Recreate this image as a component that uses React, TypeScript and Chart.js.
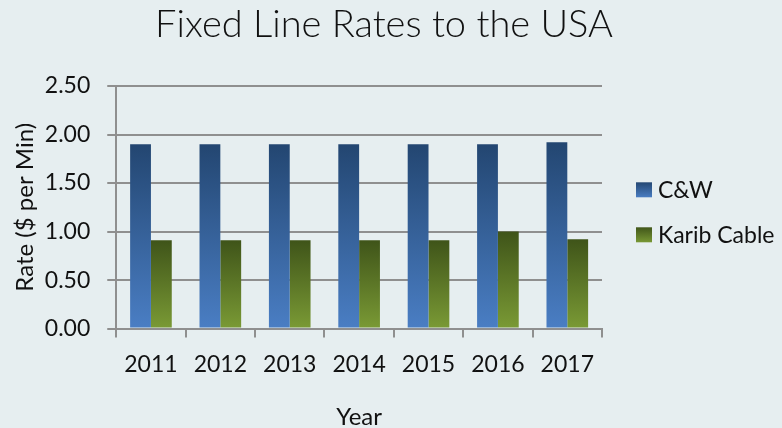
import React, { useEffect, useRef } from "react";
import { Chart, registerables } from "chart.js";

Chart.register(...registerables);

const TITLE = "Fixed Line Rates to the USA";
const years = ["2011", "2012", "2013", "2014", "2015", "2016", "2017"];
const cwRates = [1.9, 1.9, 1.9, 1.9, 1.9, 1.9, 1.92];
const karibRates = [0.91, 0.91, 0.91, 0.91, 0.91, 1.0, 0.92];
const seriesNames = ["C&W", "Karib Cable"];
const yTicks = [0, 0.5, 1.0, 1.5, 2.0, 2.5];

const FONT = 'Lato, "Open Sans", sans-serif';
const BG = "#e6eef0";
const GRID = "#8f8f8f";
const CW_DARK = "#234671";
const CW_LIGHT = "#4a7ec4";
const KC_DARK = "#3f5419";
const KC_LIGHT = "#7a9a35";

const barGradient = (dark: string, light: string) => (ctx: any) => {
  const chart = ctx.chart;
  if (!chart.chartArea || ctx.type !== "data") return light;
  const y = chart.scales.y;
  const top = y.getPixelForValue(ctx.raw);
  const bottom = y.getPixelForValue(0);
  const g = chart.ctx.createLinearGradient(0, top, 0, bottom);
  g.addColorStop(0, dark);
  g.addColorStop(1, light);
  return g;
};

const decorPlugin = {
  id: "decor",
  beforeDraw(chart: any) {
    const c = chart.ctx;
    c.save();
    c.fillStyle = BG;
    c.fillRect(0, 0, chart.width, chart.height);
    c.restore();
  },
  afterDraw(chart: any) {
    const c = chart.ctx;
    const area = chart.chartArea;
    c.save();
    // title
    c.fillStyle = "#111111";
    c.font = `300 38px ${FONT}`;
    c.textAlign = "center";
    c.textBaseline = "alphabetic";
    c.fillText(TITLE, 384, 37);
    // legend
    const colors = [
      [CW_DARK, CW_LIGHT],
      [KC_DARK, KC_LIGHT],
    ];
    const boxX = area.right + 34;
    const mid = (area.top + area.bottom) / 2;
    const centers = [mid - 17.5, mid + 27.5];
    c.font = `23px ${FONT}`;
    c.textAlign = "left";
    seriesNames.forEach((name, i) => {
      const cy = centers[i];
      const g = c.createLinearGradient(0, cy - 8, 0, cy + 8);
      g.addColorStop(0, colors[i][0]);
      g.addColorStop(1, colors[i][1]);
      c.fillStyle = g;
      c.fillRect(boxX, cy - 7.5, 16, 15);
      c.fillStyle = "#111111";
      c.textBaseline = "alphabetic";
      c.fillText(name, boxX + 22, cy + 8);
    });
    c.restore();
  },
};

export default function App() {
  const ref = useRef<HTMLCanvasElement>(null);
  useEffect(() => {
    document.body.style.margin = "0";
    document.body.style.background = BG;
    const chart = new Chart(ref.current as HTMLCanvasElement, {
      type: "bar",
      data: {
        labels: years,
        datasets: [
          {
            label: seriesNames[0],
            data: cwRates,
            backgroundColor: barGradient(CW_DARK, CW_LIGHT),
            borderWidth: 0,
            categoryPercentage: 0.6,
            barPercentage: 1,
          },
          {
            label: seriesNames[1],
            data: karibRates,
            backgroundColor: barGradient(KC_DARK, KC_LIGHT),
            borderWidth: 0,
            categoryPercentage: 0.6,
            barPercentage: 1,
          },
        ],
      },
      options: {
        animation: false,
        responsive: false,
        devicePixelRatio: 1,
        layout: { padding: { top: 86, right: 180, left: 7, bottom: -4 } },
        plugins: {
          legend: { display: false },
          title: { display: false },
          tooltip: { enabled: false },
        },
        scales: {
          x: {
            grid: {
              display: true,
              drawOnChartArea: false,
              drawTicks: true,
              tickLength: 9,
              offset: true,
              color: GRID,
              lineWidth: 2,
            },
            border: { display: true, color: GRID, width: 2 },
            ticks: {
              color: "#111111",
              font: { family: FONT, size: 23 },
              padding: 13,
              maxRotation: 0,
            },
            title: {
              display: true,
              text: "Year",
              color: "#111111",
              font: { family: FONT, size: 24 },
              padding: { top: 12, bottom: 0 },
            },
          },
          y: {
            min: 0,
            max: 2.5,
            afterBuildTicks: (scale: any) => {
              scale.ticks = yTicks.map((v) => ({ value: v }));
            },
            grid: {
              color: GRID,
              lineWidth: 2,
              tickLength: 9,
              drawTicks: true,
            },
            border: { display: true, color: GRID, width: 2 },
            ticks: {
              color: "#111111",
              font: { family: FONT, size: 23 },
              padding: 17,
              callback: (v: any) => Number(v).toFixed(2),
            },
            title: {
              display: true,
              text: "Rate ($ per Min)",
              color: "#111111",
              font: { family: FONT, size: 24 },
              padding: { top: 4, bottom: -12 },
            },
          },
        },
      },
      plugins: [decorPlugin],
    });
    return () => chart.destroy();
  }, []);
  return (
    <canvas
      ref={ref}
      width={782}
      height={428}
      style={{ display: "block", width: 782, height: 428 }}
    />
  );
}
